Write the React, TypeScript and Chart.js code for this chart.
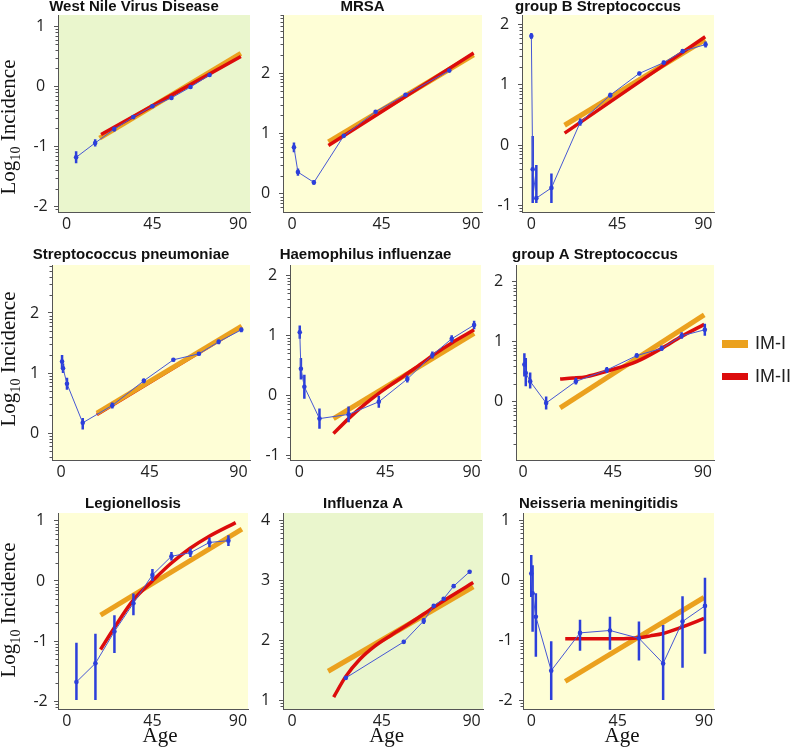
import React, { useEffect, useRef } from "react";
import { Chart, registerables } from "chart.js";
Chart.register(...registerables);

// ---------- shared ticks ----------
const xTicks = [0, 45, 90];
const ticksWnv = [-2, -1, 0, 1];
const ticksMrsa = [0, 1, 2];
const ticksGbs = [-1, 0, 1, 2];
const ticksSpn = [0, 1, 2];
const ticksHib = [-1, 0, 1, 2];
const ticksGas = [0, 1, 2];
const ticksLeg = [-2, -1, 0, 1];
const ticksFlu = [1, 2, 3, 4];
const ticksNm = [-2, -1, 0, 1];

// ---------- West Nile Virus Disease ----------
const wnvAge = [5, 15, 25, 35, 45, 55, 65, 75];
const wnvVal = [-1.18, -0.94, -0.71, -0.51, -0.33, -0.19, -0.01, 0.19];
const wnvLo = [-1.28, -1.0, -0.75, -0.54, -0.36, -0.22, -0.04, 0.16];
const wnvHi = [-1.08, -0.88, -0.67, -0.48, -0.3, -0.16, 0.02, 0.22];
const wnvIM1Age = [17.3, 91.4];
const wnvIM1 = [-0.86, 0.55];
const wnvIM2Age = [18.1, 91.4];
const wnvIM2 = [-0.8, 0.5];

// ---------- MRSA ----------
const mrsaAge = [1, 3, 11, 26, 42, 57, 79];
const mrsaVal = [0.77, 0.36, 0.19, 0.96, 1.36, 1.64, 2.04];
const mrsaLo = [0.69, 0.3, 0.15, 0.94, 1.34, 1.62, 2.02];
const mrsaHi = [0.85, 0.42, 0.23, 0.98, 1.38, 1.66, 2.06];
const mrsaIM1Age = [18.3, 91.2];
const mrsaIM1 = [0.86, 2.3];
const mrsaIM2Age = [18.3, 91.2];
const mrsaIM2 = [0.8, 2.33];

// ---------- group B Streptococcus ----------
const gbsAge = [0, 0.7, 2.6, 10.5, 25.6, 41.3, 56.5, 69.3, 79.2, 91.2];
const gbsVal = [1.81, -0.4, -0.88, -0.71, 0.38, 0.83, 1.19, 1.37, 1.56, 1.67];
const gbsLo = [1.76, -0.96, -0.96, -0.96, 0.32, 0.79, 1.16, 1.34, 1.53, 1.62];
const gbsHi = [1.86, 0.15, -0.33, -0.47, 0.44, 0.87, 1.22, 1.4, 1.59, 1.72];
const gbsIM1Age = [17.4, 91];
const gbsIM1 = [0.33, 1.75];
const gbsIM2Age = [17.4, 91];
const gbsIM2 = [0.2, 1.8];

// ---------- Streptococcus pneumoniae ----------
const spnAge = [0.5, 1, 3, 11, 26, 42, 57, 70, 80, 91.5];
const spnVal = [1.19, 1.08, 0.82, 0.17, 0.46, 0.87, 1.22, 1.32, 1.52, 1.72];
const spnLo = [1.08, 1.0, 0.72, 0.06, 0.41, 0.83, 1.19, 1.29, 1.48, 1.68];
const spnHi = [1.3, 1.16, 0.92, 0.25, 0.51, 0.91, 1.25, 1.35, 1.56, 1.76];
const spnIM1Age = [18.2, 91.7];
const spnIM1 = [0.33, 1.78];
const spnIM2Age = [18.2, 91.7];
const spnIM2 = [0.31, 1.77];

// ---------- Haemophilus influenzae ----------
const hibAge = [0.2, 0.8, 2.6, 10.5, 25.7, 41.5, 56.4, 69.5, 79.6, 91.3];
const hibVal = [1.05, 0.44, 0.14, -0.39, -0.32, -0.11, 0.27, 0.67, 0.94, 1.17];
const hibLo = [0.94, 0.26, -0.06, -0.56, -0.45, -0.21, 0.21, 0.61, 0.88, 1.1];
const hibHi = [1.16, 0.62, 0.34, -0.22, -0.19, -0.01, 0.33, 0.73, 1.0, 1.24];
const hibIM1Age = [17.8, 91.3];
const hibIM1 = [-0.39, 1.03];
const hibIM2Age = [17.8, 25.7, 33.5, 41.5, 50, 60, 69.5, 80, 91.3];
const hibIM2 = [-0.64, -0.39, -0.17, 0.03, 0.22, 0.44, 0.66, 0.88, 1.09];

// ---------- group A Streptococcus ----------
const gasAge = [0.6, 1.3, 3.5, 11.5, 26.4, 41.9, 56.9, 69.4, 79.4, 91];
const gasVal = [0.62, 0.48, 0.34, -0.02, 0.34, 0.53, 0.77, 0.89, 1.1, 1.2];
const gasLo = [0.42, 0.26, 0.22, -0.13, 0.29, 0.48, 0.74, 0.85, 1.05, 1.1];
const gasHi = [0.81, 0.73, 0.49, 0.09, 0.4, 0.58, 0.81, 0.94, 1.16, 1.3];
const gasIM1Age = [18.5, 90.7];
const gasIM1 = [-0.1, 1.45];
const gasIM2Age = [18.5, 25, 31.8, 41.8, 56.8, 69.3, 79.3, 90.7];
const gasIM2 = [0.38, 0.395, 0.42, 0.51, 0.67, 0.89, 1.09, 1.29];

// ---------- Legionellosis ----------
const legAge = [5, 15, 25, 35, 45, 55, 65, 75, 85];
const legVal = [-1.68, -1.37, -0.84, -0.37, 0.1, 0.41, 0.47, 0.64, 0.67];
const legLo = [-1.98, -1.98, -1.2, -0.57, 0.0, 0.34, 0.4, 0.56, 0.58];
const legHi = [-1.03, -0.88, -0.57, -0.21, 0.2, 0.48, 0.54, 0.72, 0.76];
const legIM1Age = [17.7, 92.1];
const legIM1 = [-0.57, 0.86];
const legIM2Age = [17.7, 24.7, 34.9, 44.7, 54.7, 64.7, 74.7, 88.8];
const legIM2 = [-1.14, -0.79, -0.32, -0.01, 0.29, 0.54, 0.74, 0.97];

// ---------- Influenza A ----------
const fluAge = [27, 56, 66, 71, 76, 81, 89];
const fluVal = [1.37, 1.97, 2.32, 2.57, 2.69, 2.9, 3.14];
const fluLo = [1.34, 1.94, 2.27, 2.54, 2.66, 2.87, 3.11];
const fluHi = [1.4, 2.0, 2.37, 2.6, 2.72, 2.93, 3.17];
const fluIM1Age = [18.1, 90.8];
const fluIM1 = [1.48, 2.89];
const fluIM2Age = [20.9, 26.9, 34, 41.5, 50, 60, 71.1, 80, 90.8];
const fluIM2 = [1.05, 1.39, 1.68, 1.9, 2.09, 2.3, 2.55, 2.74, 2.96];

// ---------- Neisseria meningitidis ----------
const nmAge = [0, 0.7, 2.4, 10.4, 25.4, 41, 56.1, 68.7, 78.8, 90.5];
const nmVal = [0.11, -0.22, -0.61, -1.51, -0.88, -0.84, -0.97, -1.39, -0.69, -0.43];
const nmLo = [-0.28, -0.86, -1.28, -2.0, -1.18, -1.16, -1.34, -2.0, -1.46, -1.23];
const nmHi = [0.42, 0.25, -0.22, -1.02, -0.66, -0.61, -0.69, -0.75, -0.27, 0.04];
const nmIM1Age = [17.7, 90];
const nmIM1 = [-1.69, -0.29];
const nmIM2Age = [17.7, 30, 41, 50, 56.1, 62, 68.7, 78.8, 90];
const nmIM2 = [-0.98, -0.98, -0.98, -0.975, -0.96, -0.93, -0.89, -0.78, -0.64];

// ---------- styles ----------
const ORANGE = "#EBA11E";
const RED = "#DC0C0C";
const BLUE = "#2C3FDA";
const BLUE_LINE = "#4657D4";
const YELLOW = "#FEFED6";
const GREEN = "#EAF6CD";
const AXIS = "#555555";

type Panel = {
  title: string;
  bg: string;
  age: number[];
  val: number[];
  lo: number[];
  hi: number[];
  im1x: number[];
  im1: number[];
  im2x: number[];
  im2: number[];
  yTicks: number[];
  yMin: number;
  yMax: number;
  xMin: number;
  xMax: number;
  L: number;
  R: number;
  T: number;
  B: number;
  titleTop: number;
  redUnder?: boolean;
};

const panels: Panel[] = [
  { title: "West Nile Virus Disease", bg: GREEN, age: wnvAge, val: wnvVal, lo: wnvLo, hi: wnvHi, im1x: wnvIM1Age, im1: wnvIM1, im2x: wnvIM2Age, im2: wnvIM2, yTicks: ticksWnv, yMin: -2.09, yMax: 1.19, xMin: -4.5, xMax: 96.2, L: 58, R: 250, T: 15, B: 212, titleTop: 14.7 },
  { title: "MRSA", bg: YELLOW, age: mrsaAge, val: mrsaVal, lo: mrsaLo, hi: mrsaHi, im1x: mrsaIM1Age, im1: mrsaIM1, im2x: mrsaIM2Age, im2: mrsaIM2, yTicks: ticksMrsa, yMin: -0.3, yMax: 2.96, xMin: -4.5, xMax: 95.4, L: 283, R: 482, T: 15, B: 212, titleTop: 14.7 },
  { title: "group B Streptococcus", bg: YELLOW, age: gbsAge, val: gbsVal, lo: gbsLo, hi: gbsHi, im1x: gbsIM1Age, im1: gbsIM1, im2x: gbsIM2Age, im2: gbsIM2, yTicks: ticksGbs, yMin: -1.11, yMax: 2.16, xMin: -4.9, xMax: 95.6, L: 522, R: 714, T: 15, B: 212, titleTop: 14.7 },
  { title: "Streptococcus pneumoniae", bg: YELLOW, age: spnAge, val: spnVal, lo: spnLo, hi: spnHi, im1x: spnIM1Age, im1: spnIM1, im2x: spnIM2Age, im2: spnIM2, yTicks: ticksSpn, yMin: -0.45, yMax: 2.8, xMin: -4.6, xMax: 95.9, L: 52, R: 250, T: 265, B: 460, titleTop: 12, redUnder: true },
  { title: "Haemophilus influenzae", bg: YELLOW, age: hibAge, val: hibVal, lo: hibLo, hi: hibHi, im1x: hibIM1Age, im1: hibIM1, im2x: hibIM2Age, im2: hibIM2, yTicks: ticksHib, yMin: -1.08, yMax: 2.17, xMin: -4.9, xMax: 94.9, L: 290, R: 481, T: 265, B: 460, titleTop: 12 },
  { title: "group A Streptococcus", bg: YELLOW, age: gasAge, val: gasVal, lo: gasLo, hi: gasHi, im1x: gasIM1Age, im1: gasIM1, im2x: gasIM2Age, im2: gasIM2, yTicks: ticksGas, yMin: -0.97, yMax: 2.28, xMin: -3.6, xMax: 95.6, L: 516, R: 714, T: 265, B: 460, titleTop: 12 },
  { title: "Legionellosis", bg: YELLOW, age: legAge, val: legVal, lo: legLo, hi: legHi, im1x: legIM1Age, im1: legIM1, im2x: legIM2Age, im2: legIM2, yTicks: ticksLeg, yMin: -2.13, yMax: 1.13, xMin: -4.7, xMax: 95.3, L: 58, R: 248, T: 513, B: 709, titleTop: 13.5 },
  { title: "Influenza A", bg: GREEN, age: fluAge, val: fluVal, lo: fluLo, hi: fluHi, im1x: fluIM1Age, im1: fluIM1, im2x: fluIM2Age, im2: fluIM2, yTicks: ticksFlu, yMin: 0.85, yMax: 4.12, xMin: -4.5, xMax: 95.7, L: 283, R: 483, T: 513, B: 709, titleTop: 13.5 },
  { title: "Neisseria meningitidis", bg: YELLOW, age: nmAge, val: nmVal, lo: nmLo, hi: nmHi, im1x: nmIM1Age, im1: nmIM1, im2x: nmIM2Age, im2: nmIM2, yTicks: ticksNm, yMin: -2.15, yMax: 1.12, xMin: -4.3, xMax: 95.2, L: 523, R: 714, T: 513, B: 709, titleTop: 13.5 },
];

const SIDE = 40; // y-axis width and symmetric right padding
const TITLE_H = 30;
const XAXIS_H = 30;

const bgPlugin = {
  id: "panelBg",
  beforeDraw(chart: any, _args: any, opts: any) {
    const { ctx, chartArea: a } = chart;
    ctx.save();
    ctx.fillStyle = opts.color;
    ctx.fillRect(a.left, a.top, a.right - a.left, a.bottom - a.top);
    ctx.restore();
  },
};

const minorTickPlugin = {
  id: "logMinorTicks",
  afterDraw(chart: any) {
    const s = chart.scales.y;
    const ctx = chart.ctx;
    ctx.save();
    ctx.strokeStyle = AXIS;
    ctx.lineWidth = 1;
    for (let n = Math.floor(s.min); n < s.max; n++) {
      for (let k = 2; k <= 9; k++) {
        const v = n + Math.log10(k);
        if (v < s.min || v > s.max) continue;
        const y = Math.round(s.getPixelForValue(v)) + 0.5;
        ctx.beginPath();
        ctx.moveTo(s.right - 2.5, y);
        ctx.lineTo(s.right, y);
        ctx.stroke();
      }
    }
    ctx.restore();
  },
};

function PanelChart({ p }: { p: Panel }) {
  const ref = useRef<HTMLCanvasElement>(null);
  const w = p.R - p.L + SIDE * 2;
  const h = p.B - p.T + TITLE_H + XAXIS_H;
  useEffect(() => {
    if (!ref.current) return;
    const pts = (xs: number[], ys: number[]) => xs.map((x, i) => ({ x, y: ys[i] }));
    const errData = p.age.flatMap((a, i) => [
      { x: a, y: p.lo[i] },
      { x: a, y: p.hi[i] },
      { x: a, y: null as any },
    ]);
    const hasNeg = p.yTicks.some((t) => t < 0);
    const chart = new Chart(ref.current, {
      type: "line",
      data: {
        datasets: [
          {
            label: "data",
            data: pts(p.age, p.val),
            borderColor: BLUE_LINE,
            borderWidth: 1,
            pointRadius: 2.3,
            pointBackgroundColor: BLUE,
            pointBorderWidth: 0,
            tension: 0,
            order: 0,
          },
          {
            label: "err",
            data: errData,
            borderColor: BLUE,
            borderWidth: 2.5,
            pointRadius: 0,
            spanGaps: false,
            borderCapStyle: "butt",
            order: 1,
          },
          {
            label: "IM-II",
            data: pts(p.im2x, p.im2),
            borderColor: RED,
            borderWidth: 3.5,
            pointRadius: 0,
            cubicInterpolationMode: "monotone",
            order: p.redUnder ? 4 : 2,
          },
          {
            label: "IM-I",
            data: pts(p.im1x, p.im1),
            borderColor: ORANGE,
            borderWidth: 5,
            pointRadius: 0,
            order: 3,
          },
        ] as any,
      },
      options: {
        responsive: false,
        animation: false,
        events: [],
        layout: { padding: { left: 0, right: SIDE, top: 0, bottom: 0 } },
        plugins: {
          legend: { display: false },
          tooltip: { enabled: false },
          title: {
            display: true,
            text: p.title,
            color: "#111",
            font: { family: "'Liberation Sans', Arial, sans-serif", size: 15, weight: "bold", lineHeight: 1 },
            padding: { top: p.titleTop, bottom: TITLE_H - 15 - p.titleTop },
          },
          panelBg: { color: p.bg },
        } as any,
        scales: {
          x: {
            type: "linear",
            min: p.xMin,
            max: p.xMax,
            afterBuildTicks: (s: any) => {
              s.ticks = xTicks.map((v) => ({ value: v }));
            },
            afterFit: (s: any) => {
              s.height = XAXIS_H;
            },
            grid: { display: false, drawTicks: false },
            border: { display: true, color: AXIS, width: 1 },
            ticks: {
              padding: 3,
              color: "#222",
              font: { family: "'Open Sans', sans-serif", size: 16 },
              maxRotation: 0,
              callback: (v: any) => String(v),
            },
          },
          y: {
            type: "linear",
            min: p.yMin,
            max: p.yMax,
            afterBuildTicks: (s: any) => {
              s.ticks = p.yTicks.map((v) => ({ value: v }));
            },
            afterFit: (s: any) => {
              s.width = SIDE;
            },
            grid: { display: true, drawOnChartArea: false, drawTicks: true, tickLength: 4, color: AXIS },
            border: { display: true, color: AXIS, width: 1 },
            ticks: {
              padding: hasNeg ? 6.3 : 8.9,
              crossAlign: "center",
              color: "#222",
              font: { family: "'Open Sans', sans-serif", size: 16 },
              callback: (v: any) => String(v),
            },
          },
        },
      } as any,
      plugins: [bgPlugin, minorTickPlugin],
    });
    return () => chart.destroy();
  }, []);
  return (
    <canvas
      ref={ref}
      width={w}
      height={h}
      style={{ position: "absolute", left: p.L - SIDE, top: p.T - TITLE_H, width: w, height: h }}
    />
  );
}

const yTitleRows = [127, 358.5, 610];
const ageCenters = [160, 386.7, 622];

export default function App() {
  return (
    <div
      style={{
        position: "absolute",
        left: 0,
        top: 0,
        width: 796,
        height: 750,
        overflow: "hidden",
        background: "#fff",
      }}
    >
      {panels.map((p, i) => (
        <PanelChart key={i} p={p} />
      ))}
      {yTitleRows.map((cy, i) => (
        <div
          key={"yt" + i}
          style={{
            position: "absolute",
            left: 8.5,
            top: cy,
            transform: "translate(-50%, -50%) rotate(-90deg)",
            font: "21px 'Liberation Serif', serif",
            lineHeight: "24px",
            whiteSpace: "nowrap",
            color: "#111",
          }}
        >
          Log<span style={{ fontSize: "0.68em", position: "relative", top: "0.35em" }}>10</span> Incidence
        </div>
      ))}
      {ageCenters.map((cx, i) => (
        <div
          key={"age" + i}
          style={{
            position: "absolute",
            left: cx,
            top: 724.6,
            transform: "translateX(-50%)",
            font: "21px 'Liberation Serif', serif",
            lineHeight: "21px",
            whiteSpace: "nowrap",
            color: "#111",
          }}
        >
          Age
        </div>
      ))}
      <div style={{ position: "absolute", left: 722, top: 340, width: 26, height: 8, background: ORANGE }} />
      <div style={{ position: "absolute", left: 722, top: 373, width: 26, height: 7, background: RED }} />
      <div
        style={{
          position: "absolute",
          left: 755,
          top: 333.7,
          font: "18px 'Liberation Sans', Arial, sans-serif",
          lineHeight: "18px",
          color: "#222",
          whiteSpace: "nowrap",
        }}
      >
        IM-I
      </div>
      <div
        style={{
          position: "absolute",
          left: 755,
          top: 367,
          font: "18px 'Liberation Sans', Arial, sans-serif",
          lineHeight: "18px",
          color: "#222",
          whiteSpace: "nowrap",
        }}
      >
        IM-II
      </div>
    </div>
  );
}
